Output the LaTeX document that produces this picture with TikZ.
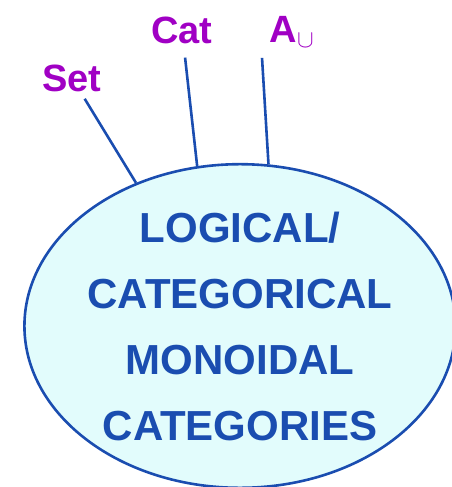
\documentclass[tikz,border=0pt]{standalone}
\usepackage{fontspec}
\setsansfont{Liberation Sans}
\usetikzlibrary{shapes.geometric}
\definecolor{bubbleFill}{HTML}{E2FCFC}
\definecolor{bubbleBorder}{HTML}{1A4DB0}
\definecolor{tagText}{HTML}{A000C4}

\begin{document}
\begin{tikzpicture}[
    x=1pt, y=-1pt,
    bubble/.style={
        ellipse, draw=bubbleBorder, fill=bubbleFill,
        minimum width=416pt, minimum height=316pt,
        inner sep=0pt, line width=2.6pt,
        align=center, text=bubbleBorder,
        font=\sffamily\bfseries\fontsize{42}{66}\selectfont
    },
    tag/.style={
        text=tagText, inner sep=2pt,
        font=\sffamily\bfseries\fontsize{38}{40}\selectfont
    },
    link/.style={draw=bubbleBorder, line width=2.6pt}
]
  \useasboundingbox (0,0) rectangle (451,487);

  % Nodes
  \node[bubble] (theories) at (240,326) {LOGICAL/\\CATEGORICAL\\MONOIDAL\\CATEGORIES};

  \node[tag] (set) at (72,78) {Set};

  \node[tag] (cat) at (182,30) {Cat};

  \node[tag] (acup) at (292,32) {A$_{\cup}$};

  % Links
  \coordinate (acupfoot) at ([xshift=-6pt]acup.south west);
  \draw[link, shorten <=6pt] (set) -- (theories.126.7);
  \draw[link, shorten <=12pt] (cat) -- (theories.105);
  \draw[link, shorten <=8pt] (acupfoot) -- (theories.80);

\end{tikzpicture}
\end{document}
